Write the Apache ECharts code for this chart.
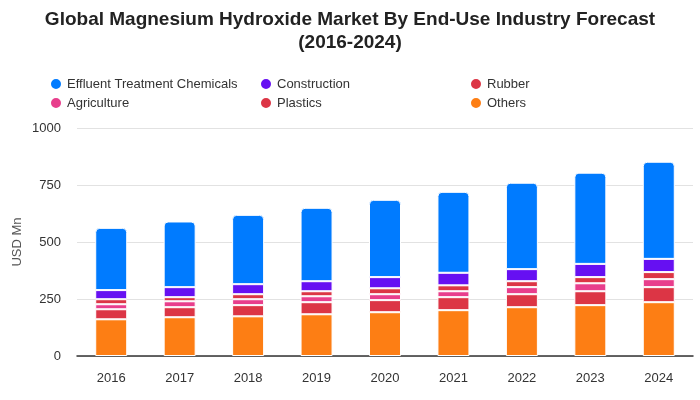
<!DOCTYPE html>
<html>
<head>
<meta charset="utf-8">
<script src="https://cdn.jsdelivr.net/npm/echarts@6/dist/echarts.min.js"></script>
<style>html,body{margin:0;padding:0;background:#fff}#c{width:700px;height:400px}</style>
</head>
<body>
<div id="c"></div>
<script>
const years = ['2016','2017','2018','2019','2020','2021','2022','2023','2024'];
const others = [161, 170, 174, 183, 192, 201, 214, 223, 236];
const plastics = [44, 44, 49, 53, 53, 57, 57, 61, 66];
const agriculture = [22, 26, 26, 26, 26, 26, 31, 35, 35];
const rubber = [22, 18, 22, 22, 26, 26, 26, 27, 31];
const construction = [40, 44, 44, 44, 49, 55, 53, 58, 58];
const effluent = [273, 288, 304, 322, 339, 355, 379, 400, 426];
const yTicks = [0, 250, 500, 750, 1000];

const font = 'Liberation Sans, Arial, sans-serif';
const chart = echarts.init(document.getElementById('c'), null, {renderer: 'canvas'});

function mk(name, data, color, top) {
  return {
    name: name, type: 'bar', stack: 'total', data: data, barWidth: 32,
    itemStyle: {color: color, borderColor: '#fff', borderWidth: 1, borderRadius: top ? [4,4,0,0] : 0},
    emphasis: {disabled: true}
  };
}
const legendCommon = {
  orient: 'vertical', top: 72, itemWidth: 12, itemHeight: 12, itemGap: 5, icon: 'circle',
  textStyle: {color: '#333', fontSize: 13, fontFamily: font}, selectedMode: false
};
chart.setOption({
  animation: false,
  title: {
    text: 'Global Magnesium Hydroxide Market By End-Use Industry Forecast\n(2016-2024)',
    left: 'center', top: 3,
    textStyle: {color: '#222', fontSize: 19, fontWeight: 'bold', fontFamily: font, lineHeight: 23}
  },
  legend: [
    Object.assign({left: 44, data: ['Effluent Treatment Chemicals', 'Agriculture']}, legendCommon),
    Object.assign({left: 254, data: ['Construction', 'Plastics']}, legendCommon),
    Object.assign({left: 464, data: ['Rubber', 'Others']}, legendCommon)
  ],
  grid: {left: 77, right: 7, top: 128, bottom: 44, containLabel: false},
  xAxis: {
    type: 'category', data: years,
    axisLine: {lineStyle: {color: '#333', width: 1.5}},
    axisTick: {show: false},
    axisLabel: {color: '#333', fontSize: 13, fontFamily: font, margin: 16}
  },
  yAxis: {
    type: 'value', min: yTicks[0], max: yTicks[yTicks.length-1], interval: yTicks[1]-yTicks[0],
    name: 'USD Mn', nameLocation: 'middle', nameGap: 53, nameRotate: 90, nameMoveOverlap: false,
    nameTextStyle: {color: '#555', fontSize: 13, fontFamily: font},
    axisLine: {show: false}, axisTick: {show: false},
    axisLabel: {color: '#333', fontSize: 13, fontFamily: font, margin: 16, formatter: v => String(v)},
    splitLine: {lineStyle: {color: '#e2e2e2', width: 1}}
  },
  series: [
    mk('Others', others, '#fd7e14'),
    mk('Plastics', plastics, '#dc3545'),
    mk('Agriculture', agriculture, '#e83e8c'),
    mk('Rubber', rubber, '#dc3545'),
    mk('Construction', construction, '#6610f2'),
    mk('Effluent Treatment Chemicals', effluent, '#007bff', true)
  ]
});
</script>
</body>
</html>
